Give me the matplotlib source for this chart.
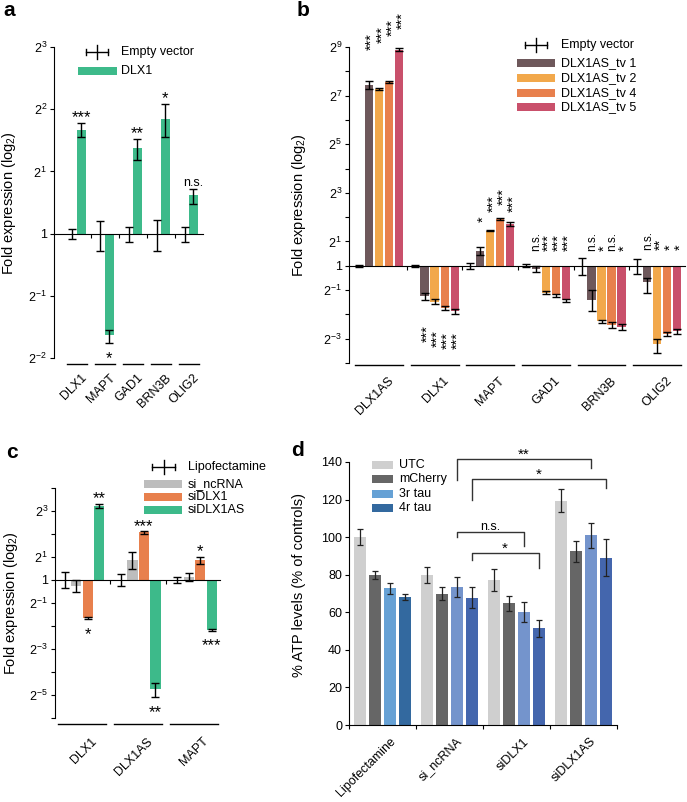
import matplotlib
matplotlib.use("Agg")
import matplotlib.pyplot as plt
from matplotlib.lines import Line2D
from matplotlib.patches import Rectangle

plt.rcParams["font.family"] = ["Liberation Sans", "DejaVu Sans"]
plt.rcParams["mathtext.fontset"] = "custom"
plt.rcParams["mathtext.rm"] = "Liberation Sans"
plt.rcParams["mathtext.it"] = "Liberation Sans:italic"
plt.rcParams["mathtext.bf"] = "Liberation Sans:bold"
plt.rcParams["mathtext.default"] = "regular"
plt.rcParams["axes.linewidth"] = 0.8

W, H = 687, 802

# ---- panel a: DLX1 overexpression (log2 fold) ----
a_genes = ["DLX1", "MAPT", "GAD1", "BRN3B", "OLIG2"]
a_ev_lo = [0.09, 0.28, 0.13, 0.28, 0.14]
a_ev_hi = [0.08, 0.21, 0.10, 0.22, 0.11]
a_dlx1 = [1.67, -1.63, 1.37, 1.84, 0.62]
a_dlx1_lo = [0.11, 0.13, 0.18, 0.29, 0.14]
a_dlx1_hi = [0.11, 0.08, 0.15, 0.25, 0.10]
a_sig = ["***", "*", "**", "*", "n.s."]

# ---- panel b: DLX1AS transcript variants (log2 fold) ----
b_genes = ["DLX1AS", "DLX1", "MAPT", "GAD1", "BRN3B", "OLIG2"]
b_series = ["DLX1AS_tv 1", "DLX1AS_tv 2", "DLX1AS_tv 4", "DLX1AS_tv 5"]
b_ev_lo = [0.05, 0.04, 0.14, 0.07, 0.37, 0.33]
b_ev_hi = [0.05, 0.04, 0.11, 0.07, 0.32, 0.27]
b_tv1 = [7.45, -1.26, 0.62, -0.14, -1.40, -0.68]
b_tv2 = [7.28, -1.47, 1.45, -1.10, -2.29, -3.22]
b_tv4 = [7.55, -1.74, 1.92, -1.22, -2.45, -2.79]
b_tv5 = [8.89, -1.88, 1.71, -1.42, -2.52, -2.70]
b_tv1_lo = [0.17, 0.15, 0.17, 0.12, 0.48, 0.44]
b_tv1_hi = [0.17, 0.15, 0.17, 0.12, 0.40, 0.18]
b_tv2_lo = [0.04, 0.12, 0.04, 0.06, 0.06, 0.37]
b_tv2_hi = [0.04, 0.12, 0.04, 0.06, 0.06, 0.20]
b_tv4_err = [0.05, 0.10, 0.05, 0.06, 0.12, 0.08]
b_tv5_err = [0.05, 0.12, 0.08, 0.06, 0.14, 0.10]
b_sig = [
    ["***", "***", "***", "***"],
    ["***", "***", "***", "***"],
    ["*", "***", "***", "***"],
    ["n.s.", "***", "***", "***"],
    ["n.s.", "*", "n.s.", "*"],
    ["n.s.", "**", "*", "*"],
]

# ---- panel c: knockdown (log2 fold) ----
c_genes = ["DLX1", "DLX1AS", "MAPT"]
c_series = ["si_ncRNA", "siDLX1", "siDLX1AS"]
c_lipo_lo = [0.35, 0.28, 0.12]
c_lipo_hi = [0.33, 0.28, 0.12]
c_ncrna = [-0.28, 0.88, 0.12]
c_ncrna_lo = [0.26, 0.40, 0.18]
c_ncrna_hi = [0.29, 0.34, 0.18]
c_sidlx1 = [-1.65, 2.07, 0.86]
c_sidlx1_err = [0.03, 0.05, 0.15]
c_sidlx1as = [3.23, -4.74, -2.16]
c_sidlx1as_lo = [0.09, 0.36, 0.04]
c_sidlx1as_hi = [0.09, 0.26, 0.04]
c_sig_sidlx1 = ["*", "***", "*"]
c_sig_sidlx1as = ["**", "**", "***"]

# ---- panel d: ATP levels ----
d_groups = ["Lipofectamine", "si_ncRNA", "siDLX1", "siDLX1AS"]
d_series = ["UTC", "mCherry", "3r tau", "4r tau"]
d_utc = [100.1, 79.7, 77.1, 119.3]
d_utc_err = [4.3, 4.2, 6.0, 6.1]
d_mcherry = [79.7, 70.0, 64.7, 92.5]
d_mcherry_err = [2.2, 3.2, 4.2, 5.6]
d_tau3r = [72.7, 73.5, 60.3, 101.0]
d_tau3r_err = [2.7, 5.5, 5.4, 6.7]
d_tau4r = [68.2, 67.7, 51.4, 89.1]
d_tau4r_err = [1.8, 5.5, 4.3, 9.7]
# (group, series) -> (group, series), label
d_brackets = [((1, 2), (3, 2), "**"), ((1, 3), (3, 3), "*"),
              ((1, 2), (2, 2), "n.s."), ((1, 3), (2, 3), "*")]

# colours / layout
GREEN = "#3dba8a"
B_COLORS = ["#6e585b", "#f2a84b", "#e8804d", "#c9506b"]
C_COLORS = ["#bdbdbd", "#e8804d", GREEN]
D_COLORS = ["#cfcfcf", "#666666"]
D_3R = ["#66a1d5", "#7494cc", "#7494cc", "#7494cc"]
D_4R = ["#33699f", "#4466ad", "#4466ad", "#4466ad"]
EB = dict(fmt="none", ecolor="k", elinewidth=1, capsize=3, capthick=1, zorder=3)
STAR_PT = 12


def fx(x):
    return x / W


def fy(y):
    return 1 - y / H


def add_axes_px(fig, x0, y0, x1, y1):
    ax = fig.add_axes([fx(x0), fy(y1), (x1 - x0) / W, (y1 - y0) / H])
    ax.patch.set_alpha(0)
    return ax


def legend_errbar(fig, x0, x1, y):
    xm = (x0 + x1) / 2
    segs = [((x0, y), (x1, y)), ((x0, y - 3), (x0, y + 3)),
            ((x1, y - 3), (x1, y + 3)), ((xm, y - 7), (xm, y + 7))]
    for (xa, ya), (xb, yb) in segs:
        fig.add_artist(Line2D([fx(xa), fx(xb)], [fy(ya), fy(yb)], color="k", lw=1))


def legend_patch(fig, x0, x1, y, color, h=8):
    fig.add_artist(Rectangle((fx(x0), fy(y + h / 2)), (x1 - x0) / W, h / H,
                             transform=fig.transFigure, color=color, lw=0))


def legend_text(fig, x, y, s):
    fig.text(fx(x), fy(y), s, fontsize=9, va="center", ha="left")


def log2_label(e):
    return "1" if e == 0 else f"$2^{{{e}}}$"


def setup_fold_axes(ax, lo, hi, labelled, n_groups, xlim):
    ax.set_xlim(*xlim)
    ax.set_ylim(lo, hi)
    ax.spines[["top", "right"]].set_visible(False)
    ax.spines["bottom"].set_position(("data", 0))
    ticks = list(range(lo, hi + 1))
    ax.set_yticks(ticks)
    ax.set_yticklabels([log2_label(t) if t in labelled else "" for t in ticks])
    ax.set_xticks([i + 0.5 for i in range(n_groups - 1)])
    ax.tick_params(axis="x", direction="out", length=3, width=0.8, labelbottom=False)
    ax.tick_params(axis="y", direction="out", length=3, width=0.8, labelsize=9, pad=2)


def group_labels(ax, names, y_line, y_text, half, dx=0.15):
    tr = ax.get_xaxis_transform()
    for i, name in enumerate(names):
        ax.plot([i - half, i + half], [y_line, y_line], color="k", lw=1,
                transform=tr, clip_on=False)
        ax.text(i + dx, y_text, name, rotation=45, ha="right", va="top",
                rotation_mode="anchor", transform=tr, fontsize=9)


def star(ax, x, y, s, above):
    if s == "n.s.":
        size, dy = 9, (2.0 if above else -9.0)
    else:
        size, dy = STAR_PT, (0.4 if above else -14.4)
    ax.annotate(s, (x, y), xytext=(0, dy), textcoords="offset points",
                ha="center", va="baseline", fontsize=size, annotation_clip=False)


fig = plt.figure(figsize=(W / 100, H / 100), dpi=100)

# ================= panel a =================
ax = add_axes_px(fig, 54, 47, 203, 358)
setup_fold_axes(ax, -2, 3, range(-2, 4), len(a_genes), (-0.82, 4.5))
xa = range(len(a_genes))
ax.errorbar([i - 0.16 for i in xa], [0] * len(a_genes), yerr=[a_ev_lo, a_ev_hi], **EB)
ax.bar([i + 0.16 for i in xa], a_dlx1, width=0.3, color=GREEN, zorder=1)
ax.errorbar([i + 0.16 for i in xa], a_dlx1, yerr=[a_dlx1_lo, a_dlx1_hi], **EB)
for i, s in enumerate(a_sig):
    v = a_dlx1[i]
    if v > 0:
        star(ax, i + 0.16, v + a_dlx1_hi[i], s, True)
    else:
        star(ax, i + 0.16, v - a_dlx1_lo[i], s, False)
group_labels(ax, a_genes, -0.019, -0.045, 0.36)
fig.text(fx(9), fy(203), "Fold expression (log$_2$)", rotation=90, fontsize=10.5,
         ha="center", va="center")
legend_errbar(fig, 86, 108, 52)
legend_text(fig, 121, 52, "Empty vector")
legend_patch(fig, 78, 117, 71, GREEN)
legend_text(fig, 121, 71, "DLX1")

# ================= panel b =================
ax = add_axes_px(fig, 349, 47, 685, 363)
setup_fold_axes(ax, -4, 9, [9, 7, 5, 3, 1, 0, -1, -3], len(b_genes), (-0.54, 5.5))
xb = range(len(b_genes))
ax.errorbar([i - 0.36 for i in xb], [0] * len(b_genes), yerr=[b_ev_lo, b_ev_hi], **EB)
b_vals = [b_tv1, b_tv2, b_tv4, b_tv5]
b_errs = [[b_tv1_lo, b_tv1_hi], [b_tv2_lo, b_tv2_hi], b_tv4_err, b_tv5_err]
b_off = [-0.18, 0.0, 0.18, 0.36]
for k in range(4):
    xs = [i + b_off[k] for i in xb]
    ax.bar(xs, b_vals[k], width=0.15, color=B_COLORS[k], zorder=1)
    ax.errorbar(xs, b_vals[k], yerr=b_errs[k], **EB)
# label anchors (log2 units) for the rotated significance marks
b_sig_y = [[8.89, 9.18, 9.47, 9.75], [-2.43, -2.63, -2.72, -2.72],
           [1.81, 2.22, 2.51, 2.22], [0.62] * 4, [0.62] * 4, [0.66] * 4]
for g in range(len(b_genes)):
    below = g == 1
    for k in range(4):
        s = b_sig[g][k]
        ns = s == "n.s."
        ax.annotate(s, (g + b_off[k], b_sig_y[g][k]),
                    xytext=(0.5 if ns else 2.2, 0),
                    textcoords="offset points", rotation=90, ha="center",
                    va="top" if below else "bottom", fontsize=8.5 if ns else 10.5,
                    annotation_clip=False)
group_labels(ax, b_genes, -0.006, -0.038, 0.43)
fig.text(fx(299), fy(205), "Fold expression (log$_2$)", rotation=90, fontsize=10.5,
         ha="center", va="center")
legend_errbar(fig, 525, 547, 45)
legend_text(fig, 561, 45, "Empty vector")
for k, name in enumerate(b_series):
    yy = 63.3 + 14.7 * k
    legend_patch(fig, 517, 555, yy, B_COLORS[k])
    legend_text(fig, 561, yy, name)

# ================= panel c =================
ax = add_axes_px(fig, 55, 488, 220, 718)
setup_fold_axes(ax, -6, 4, [3, 1, 0, -1, -3, -5], len(c_genes), (-0.48, 2.46))
xc = range(len(c_genes))
ax.errorbar([i - 0.31 for i in xc], [0] * len(c_genes), yerr=[c_lipo_lo, c_lipo_hi], **EB)
c_vals = [c_ncrna, c_sidlx1, c_sidlx1as]
c_errs = [[c_ncrna_lo, c_ncrna_hi], c_sidlx1_err, [c_sidlx1as_lo, c_sidlx1as_hi]]
c_off = [-0.1, 0.1, 0.31]
for k in range(3):
    xs = [i + c_off[k] for i in xc]
    ax.bar(xs, c_vals[k], width=0.18, color=C_COLORS[k], zorder=1)
    ax.errorbar(xs, c_vals[k], yerr=c_errs[k], **EB)
for i in xc:
    for k, sigs, lo_hi in [(1, c_sig_sidlx1, (c_sidlx1_err, c_sidlx1_err)),
                           (2, c_sig_sidlx1as, (c_sidlx1as_lo, c_sidlx1as_hi))]:
        v = c_vals[k][i]
        if v > 0:
            star(ax, i + c_off[k], v + lo_hi[1][i], sigs[i], True)
        else:
            star(ax, i + c_off[k], v - lo_hi[0][i], sigs[i], False)
group_labels(ax, c_genes, -0.025, -0.075, 0.43)
fig.text(fx(11), fy(603), "Fold expression (log$_2$)", rotation=90, fontsize=10.5,
         ha="center", va="center")
legend_errbar(fig, 152, 175, 467)
legend_text(fig, 188, 467, "Lipofectamine")
for k, name in enumerate(c_series):
    yy = 484 + 13.2 * k
    legend_patch(fig, 144, 182, yy, C_COLORS[k])
    legend_text(fig, 188, yy, name)

# ================= panel d =================
ax = add_axes_px(fig, 349, 462, 617, 725)
ax.set_xlim(-0.5, 3.5)
ax.set_ylim(0, 140)
ax.spines[["top", "right"]].set_visible(False)
ax.set_yticks(range(0, 141, 20))
ax.set_xticks([-0.5, 0.5, 1.5, 2.5, 3.5])
ax.tick_params(axis="x", direction="out", length=3, width=0.8, labelbottom=False)
ax.tick_params(axis="y", direction="out", length=3, width=0.8, labelsize=9, pad=2)
xd = range(len(d_groups))
d_vals = [d_utc, d_mcherry, d_tau3r, d_tau4r]
d_errs = [d_utc_err, d_mcherry_err, d_tau3r_err, d_tau4r_err]
d_cols = [D_COLORS[0], D_COLORS[1], D_3R, D_4R]
d_off = [-0.33, -0.11, 0.11, 0.33]
for k in range(4):
    xs = [i + d_off[k] for i in xd]
    ax.bar(xs, d_vals[k], width=0.18, color=d_cols[k], zorder=1)
    ax.errorbar(xs, d_vals[k], yerr=d_errs[k], fmt="none", ecolor="#222222",
                elinewidth=0.9, capsize=2, capthick=0.9, zorder=3)
# bracket geometry: top, left-leg end, right-leg end (data units)
d_bracket_y = [(141.4, 130.3, 136.6), (130.8, 119.6, 126.0),
               (102.6, 100.0, 95.2), (91.4, 87.7, 83.5)]
for ((g1, s1), (g2, s2), lab), (top, yl, yr) in zip(d_brackets, d_bracket_y):
    x1 = g1 + d_off[s1]
    x2 = g2 + d_off[s2]
    ax.plot([x1, x1, x2, x2], [yl, top, top, yr], color="#333333", lw=1,
            clip_on=False)
    ax.annotate(lab, ((x1 + x2) / 2, top), xytext=(0, 1.8 if lab == "n.s." else 0.6),
                textcoords="offset points", ha="center", va="baseline",
                fontsize=9 if lab == "n.s." else 11, annotation_clip=False)
tr = ax.get_xaxis_transform()
for i, name in enumerate(d_groups):
    ax.text(i + 0.1, -0.04, name, rotation=45, ha="right", va="top",
            rotation_mode="anchor", transform=tr, fontsize=9)
fig.text(fx(299), fy(585), "% ATP levels (% of controls)", rotation=90,
         fontsize=10.5, ha="center", va="center")
for k, name in enumerate(d_series):
    yy = 465 + 14.3 * k
    legend_patch(fig, 372, 393, yy, [D_COLORS[0], D_COLORS[1], D_3R[0], D_4R[0]][k])
    legend_text(fig, 399, yy, name)

# panel letters
for s, x, y in [("a", 9, 11), ("b", 303, 11), ("c", 12, 452), ("d", 298, 451)]:
    fig.text(fx(x), fy(y), s, fontsize=15, fontweight="bold", ha="center", va="center")

fig.savefig("out.png", dpi=100)
